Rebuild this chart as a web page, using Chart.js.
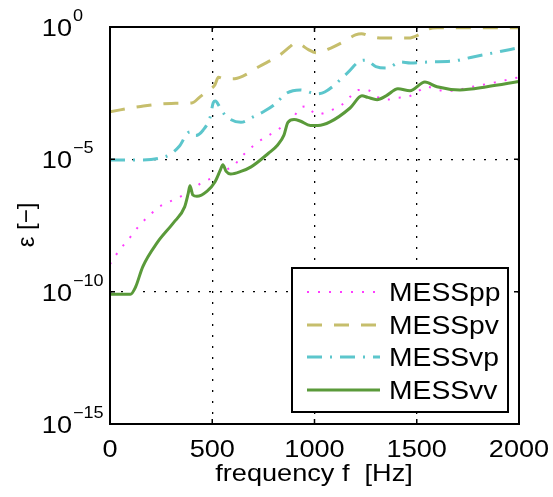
<!DOCTYPE html>
<html>
<head>
<meta charset="utf-8">
<script src="https://cdn.jsdelivr.net/npm/chart.js@4"></script>
<style>
  body { margin: 0; background: #fff; }
  #c { display: block; }
</style>
</head>
<body>
<canvas id="c" width="553" height="497"></canvas>
<script>
// frequency [Hz] and error values
const freqPP = [0, 49, 83, 147, 196, 235, 279, 333, 390, 455, 513, 562, 601, 636, 719, 817, 895, 929, 960, 990, 1010, 1086, 1134, 1174, 1213, 1257, 1306, 1355, 1403, 1457, 1501, 1550, 1604, 1662, 1770, 1873, 2000];
const valPP  = [1.1e-9, 4e-9, 8e-9, 3.4e-8, 8e-8, 1.5e-7, 2.3e-7, 3.5e-7, 6.3e-7, 1.4e-6, 2.2e-6, 4e-6, 5.2e-6, 1.1e-5, 4.2e-5, 1.26e-4, 3.7e-4, 8.7e-4, 1e-3, 6.3e-4, 5e-4, 7.4e-4, 1.15e-3, 2.3e-3, 4.2e-3, 4.2e-3, 2.3e-3, 1.8e-3, 2.1e-3, 2.3e-3, 3.5e-3, 5.5e-3, 4.2e-3, 3.9e-3, 5.5e-3, 7.8e-3, 1.26e-2];

const freqPV = [0, 150, 300, 400, 440, 480, 513, 530, 560, 600, 650, 730, 830, 880, 900, 920, 940, 970, 1010, 1080, 1140, 1200, 1230, 1270, 1330, 1460, 1520, 1560, 1600, 2000];
const valPV  = [6.3e-4, 1e-3, 1.3e-3, 1.35e-3, 2.3e-3, 4e-3, 6.5e-3, 1.26e-2, 1.1e-2, 1.1e-2, 1.4e-2, 3.2e-2, 8.7e-2, 0.18, 0.24, 0.25, 0.2, 0.14, 0.107, 0.16, 0.27, 0.5, 0.56, 0.45, 0.38, 0.38, 0.56, 0.85, 0.93, 0.93];

const freqVP = [0, 130, 270, 340, 380, 400, 420, 455, 490, 505, 515, 535, 555, 590, 640, 700, 750, 800, 865, 930, 1010, 1050, 1160, 1215, 1250, 1300, 1355, 1420, 1470, 1565, 1680, 1775, 1875, 2000];
const valVP  = [9.5e-6, 9.5e-6, 1.26e-5, 3.2e-5, 1e-4, 1.1e-4, 8e-5, 1.26e-4, 4e-4, 1.4e-3, 1.6e-3, 1e-3, 5.6e-4, 3.2e-4, 2.5e-4, 4e-4, 6.3e-4, 1.1e-3, 3.2e-3, 4.2e-3, 3e-3, 3.5e-3, 1.8e-2, 4.8e-2, 5.6e-2, 3.2e-2, 2.8e-2, 4.8e-2, 4.4e-2, 4.8e-2, 5.2e-2, 7.4e-2, 0.105, 0.166];

const freqVV = [0, 100, 125, 160, 230, 310, 365, 382, 391, 405, 425, 475, 513, 540, 552, 568, 590, 640, 690, 775, 820, 850, 870, 900, 930, 980, 1017, 1076, 1174, 1232, 1260, 1306, 1350, 1408, 1467, 1540, 1599, 1711, 1843, 2000];
const valVV  = [8e-11, 8e-11, 1.5e-10, 8.7e-10, 7e-9, 4e-8, 1.6e-7, 5e-7, 1e-6, 4.5e-7, 4e-7, 6.3e-7, 1.4e-6, 4e-6, 6.3e-6, 3.5e-6, 2.8e-6, 3.5e-6, 5.2e-6, 1.7e-5, 3.5e-5, 8e-5, 2.5e-4, 3.2e-4, 2.8e-4, 1.9e-4, 1.9e-4, 2.6e-4, 8.7e-4, 2.5e-3, 2.2e-3, 1.8e-3, 2.5e-3, 4.6e-3, 3.9e-3, 8.3e-3, 5.5e-3, 4.2e-3, 5.5e-3, 8.7e-3];

const xTicks = [0, 500, 1000, 1500, 2000];
const yTicks = [1e-15, 1e-10, 1e-5, 1];
const yTickExp = ['\u221215', '\u221210', '\u22125', '0'];

const FONT = '"Liberation Sans", Arial, sans-serif';
const STRETCH = 1.13; // the reference text is a bit wider than Arial

function pts(xs, ys) {
  return xs.map((x, i) => ({ x: x, y: ys[i] }));
}

function makeSet(label, xs, ys, color, width, dash, order) {
  return {
    label: label,
    data: pts(xs, ys),
    borderColor: color,
    backgroundColor: color,
    borderWidth: width,
    borderDash: dash,
    pointRadius: 0,
    cubicInterpolationMode: 'monotone',
    fill: false,
    order: order
  };
}

function text(ctx, str, x, y, size, align, baseline) {
  ctx.save();
  ctx.font = size + 'px ' + FONT;
  ctx.textAlign = align;
  ctx.textBaseline = baseline || 'alphabetic';
  ctx.translate(x, y);
  ctx.scale(STRETCH, 1);
  ctx.fillText(str, 0, 0);
  ctx.restore();
}

// frame, inward ticks, tick labels, titles and legend, MATLAB style
const decorPlugin = {
  id: 'decor',
  afterDraw(chart) {
    const ctx = chart.ctx;
    const a = chart.chartArea;
    const xs = chart.scales.x, ys = chart.scales.y;
    ctx.save();

    ctx.strokeStyle = '#000';
    ctx.lineWidth = 2;
    ctx.setLineDash([]);
    ctx.strokeRect(a.left, a.top, a.right - a.left, a.bottom - a.top);

    ctx.lineWidth = 1.5;
    ctx.beginPath();
    xTicks.forEach(v => {
      const px = xs.getPixelForValue(v);
      ctx.moveTo(px, a.bottom); ctx.lineTo(px, a.bottom - 5);
      ctx.moveTo(px, a.top); ctx.lineTo(px, a.top + 5);
    });
    yTicks.forEach(v => {
      const py = ys.getPixelForValue(v);
      ctx.moveTo(a.left, py); ctx.lineTo(a.left + 5, py);
      ctx.moveTo(a.right, py); ctx.lineTo(a.right - 5, py);
    });
    ctx.stroke();

    ctx.fillStyle = '#000';
    xTicks.forEach(v => {
      text(ctx, String(v), xs.getPixelForValue(v), a.bottom + 33, 24, 'center');
    });

    yTicks.forEach((v, i) => {
      const py = ys.getPixelForValue(v);
      text(ctx, '10', 72, py + 9, 24, 'right');
      text(ctx, yTickExp[i], 73, py - 6, 16, 'left');
    });

    text(ctx, 'frequency f  [Hz]', 314, 481, 24, 'center');

    ctx.save();
    ctx.font = '24px ' + FONT;
    ctx.textAlign = 'center';
    ctx.translate(34, 225);
    ctx.rotate(-Math.PI / 2);
    ctx.fillText('\u03b5 [\u2212]', 0, 0);
    ctx.restore();

    // legend box
    const lx = 292, ly = 268, lw = 216, lh = 144;
    ctx.fillStyle = '#fff';
    ctx.fillRect(lx, ly, lw, lh);
    ctx.lineWidth = 2;
    ctx.strokeStyle = '#000';
    ctx.strokeRect(lx, ly, lw, lh);
    const rows = [292, 325, 357, 390];
    const legendOrder = ['MESSpp', 'MESSpv', 'MESSvp', 'MESSvv'];
    legendOrder.forEach((name, i) => {
      const ds = chart.data.datasets.find(d => d.label === name);
      ctx.strokeStyle = ds.borderColor;
      ctx.lineWidth = ds.borderWidth;
      ctx.setLineDash(ds.borderDash);
      ctx.beginPath();
      ctx.moveTo(307, rows[i]);
      ctx.lineTo(380, rows[i]);
      ctx.stroke();
      ctx.setLineDash([]);
      ctx.fillStyle = '#000';
      text(ctx, name, 389, rows[i] + 9, 25, 'left');
    });
    ctx.restore();
  }
};

function gridColor(edges) {
  return c => (c.tick && edges.includes(c.tick.value)) ? 'rgba(0,0,0,0)' : '#000';
}

const chart = new Chart(document.getElementById('c').getContext('2d'), {
  type: 'line',
  data: {
    datasets: [
      makeSet('MESSpp', freqPP, valPP, '#ff3cff', 2, [2, 9], 3),
      makeSet('MESSpv', freqPV, valPV, '#c6be6c', 3, [15, 12], 2),
      makeSet('MESSvp', freqVP, valVP, '#5cc6cc', 3, [15, 8, 2, 8], 1),
      makeSet('MESSvv', freqVV, valVV, '#5a9a3a', 3, [], 0)
    ]
  },
  options: {
    responsive: false,
    animation: false,
    layout: { padding: { left: 110, right: 34, top: 27, bottom: 73 } },
    plugins: {
      legend: { display: false },
      tooltip: { enabled: false }
    },
    scales: {
      x: {
        type: 'linear',
        min: 0,
        max: 2000,
        ticks: { display: false, stepSize: 500 },
        grid: { drawTicks: false, color: gridColor([0, 2000]), lineWidth: 1.3 },
        border: { display: false, dash: [2, 9] }
      },
      y: {
        type: 'logarithmic',
        min: 1e-15,
        max: 1,
        afterBuildTicks: s => { s.ticks = yTicks.map(v => ({ value: v })); },
        ticks: { display: false },
        grid: { drawTicks: false, color: gridColor([1e-15, 1]), lineWidth: 1.3 },
        border: { display: false, dash: [2, 9] }
      }
    }
  },
  plugins: [decorPlugin]
});
</script>
</body>
</html>
